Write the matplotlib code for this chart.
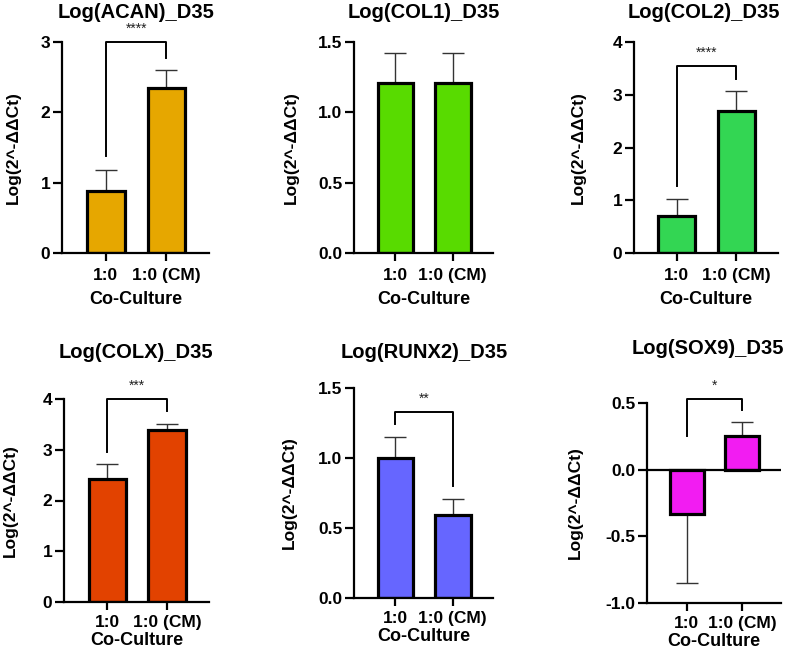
import matplotlib
matplotlib.use("Agg")
import matplotlib.pyplot as plt

plt.rcParams['font.family'] = ['Liberation Sans', 'DejaVu Sans']
plt.rcParams['font.weight'] = 'bold'
plt.rcParams['axes.unicode_minus'] = False

# data
genes = ["ACAN", "COL1", "COL2", "COLX", "RUNX2", "SOX9"]
groups = ["1:0", "1:0 (CM)"]
means = [[0.88, 2.35], [1.21, 1.21], [0.70, 2.70],
         [2.42, 3.38], [1.00, 0.59], [-0.33, 0.25]]
errors = [[0.30, 0.25], [0.21, 0.21], [0.33, 0.37],
          [0.29, 0.12], [0.15, 0.12], [0.52, 0.11]]
colors = ["#E6A700", "#58DB00", "#33D653", "#E24200", "#6666FF", "#F21CF2"]
ylims = [(0, 3), (0, 1.5), (0, 4), (0, 4), (0, 1.5), (-1.0, 0.5)]
yticks = [[0, 1, 2, 3], [0.0, 0.5, 1.0, 1.5], [0, 1, 2, 3, 4],
          [0, 1, 2, 3, 4], [0.0, 0.5, 1.0, 1.5], [-1.0, -0.5, 0.0, 0.5]]
tick_fmt = ["{:.0f}", "{:.1f}", "{:.0f}", "{:.0f}", "{:.1f}", "{:.1f}"]
# significance brackets: top, left leg end, right leg end, stars
br_top = [3.0, None, 3.55, 4.0, 1.33, 0.53]
br_left = [1.38, None, 1.27, 2.95, 1.24, 0.25]
br_right = [2.77, None, 3.30, 3.76, 0.80, 0.45]
stars = ["****", "", "****", "***", "**", "*"]

# axes boxes in pixels: left, right, top, bottom
W, H = 787, 652
boxes = [(62, 209, 42, 253), (354, 493, 42, 253), (634, 778, 42, 253),
         (64, 209, 399, 602), (354, 493, 388, 598), (647, 781, 403, 603)]
title_x = [136, 424, 704, 136, 424, 708]
title_y = [13, 13, 13, 352, 352, 349]
ylab_pad = [14, 13.5, 19, 18, 15, 16]
xtick_pad = [5, 5, 5, 4, 4, 4]
xlab_pad = [6, 6, 6, 1.5, 1.5, 1]

fig = plt.figure(figsize=(W / 100, H / 100), dpi=100)

for i, gene in enumerate(genes):
    l, r, t, b = boxes[i]
    ax = fig.add_axes([l / W, 1 - b / H, (r - l) / W, (b - t) / H])
    x = [0, 1]
    m = means[i]
    e = errors[i]
    lo = [e[k] if m[k] < 0 else 0 for k in range(2)]
    hi = [e[k] if m[k] >= 0 else 0 for k in range(2)]
    ax.errorbar(x, m, yerr=[lo, hi], fmt='none', ecolor='#333333',
                elinewidth=1.0, capsize=8, capthick=1.0, zorder=1)
    ax.bar(x, m, width=0.62, color=colors[i], edgecolor='black',
           linewidth=2.3, zorder=2)

    ax.set_xlim(-0.72, 1.7)
    ax.set_ylim(*ylims[i])
    ax.set_yticks(yticks[i])
    ax.set_yticklabels([tick_fmt[i].format(v) for v in yticks[i]])
    ax.set_xticks(x)
    ax.set_xticklabels(groups)
    for s in ['top', 'right']:
        ax.spines[s].set_visible(False)
    for s in ['left', 'bottom']:
        ax.spines[s].set_linewidth(1.6)
    ax.tick_params(axis='both', direction='out', width=1.6, labelsize=12.5)
    ax.tick_params(axis='x', length=5.5, pad=xtick_pad[i])
    ax.tick_params(axis='y', length=6.5, pad=2)
    for lab in ax.get_xticklabels() + ax.get_yticklabels():
        lab.set_fontweight('bold')
    if ylims[i][0] < 0:
        ax.axhline(0, color='black', linewidth=1.6, zorder=3)

    ax.set_ylabel("Log(2^-ΔΔCt)", fontsize=12.5, fontweight='bold',
                  labelpad=ylab_pad[i])
    ax.set_xlabel("Co-Culture", fontsize=13, fontweight='bold',
                  labelpad=xlab_pad[i])
    fig.text(title_x[i] / W, 1 - title_y[i] / H, f"Log({gene})_D35",
             ha='center', va='center', fontsize=14.5, fontweight='bold')

    if br_top[i] is not None:
        ax.plot([0, 0, 1, 1], [br_left[i], br_top[i], br_top[i], br_right[i]],
                color='black', linewidth=1.4, clip_on=False, zorder=4)
        span = ylims[i][1] - ylims[i][0]
        ax.text(0.5, br_top[i] + 0.03 * span, stars[i], ha='center',
                va='bottom', fontsize=10, fontweight='normal',
                color='#222222', clip_on=False)

fig.savefig("out.png", dpi=100)
